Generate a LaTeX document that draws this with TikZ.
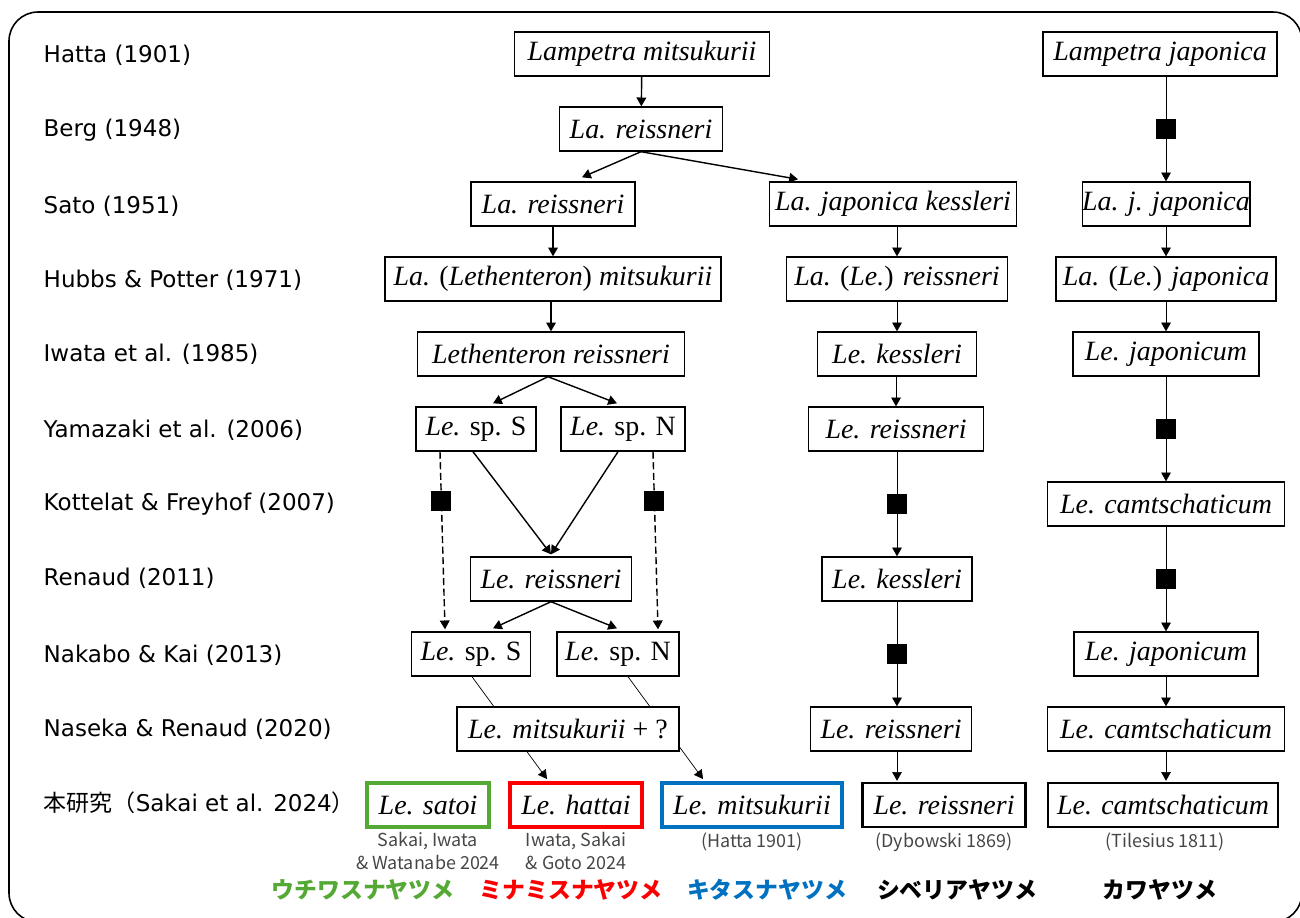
\documentclass[tikz,border=0pt]{standalone}
\usepackage{fontspec}
\setmainfont{Liberation Serif}
\newfontfamily\labfont{DejaVu Sans}
\newfontfamily\jpfont{Noto Sans CJK JP}
\usetikzlibrary{arrows.meta,calc}
\definecolor{satoigreen}{RGB}{84,168,52}
\definecolor{hattaired}{RGB}{250,0,0}
\definecolor{mitsublue}{RGB}{0,112,192}
\definecolor{authgray}{RGB}{70,70,70}
\pgfdeclarelayer{bg}
\pgfsetlayers{bg,main}
\tikzset{
  taxnode/.style = {draw=black, fill=white, line width=0.8pt, inner sep=0pt,
    minimum height=0.88cm, font=\fontsize{15.9}{18}\selectfont},
  tax_n/.style = {taxnode},% box, earlier works
  tax_k/.style = {taxnode, line width=1.4pt},% box, this study
  tax_g/.style = {taxnode, draw=satoigreen, line width=2.3pt},% box, satoi
  tax_r/.style = {taxnode, draw=hattaired, line width=2.3pt},% box, hattai
  tax_b/.style = {taxnode, draw=mitsublue, line width=2.3pt},% box, mitsukurii
  boxw/.style = {minimum width=#1*0.02cm},
  blk/.style = {fill=black, minimum size=0.4cm, inner sep=0pt},% black square
  yearlab/.style = {anchor=west, inner sep=0pt,
    font=\labfont\fontsize{13.1}{15}\selectfont},
  authlab/.style = {anchor=north, align=center, inner sep=0pt, text=authgray,
    font=\jpfont\fontsize{10.2}{12.8}\selectfont},
  kanalab/.style = {inner sep=0pt, font=\jpfont\bfseries\fontsize{13}{15}\selectfont}
}
\begin{document}
\begin{tikzpicture}[x=0.02cm, y=-0.02cm, line width=0.8pt,
  >={Triangle[length=5pt,width=5.5pt]}]
\useasboundingbox (0,0) rectangle (1300,917);
\draw[line width=0.9pt, rounded corners=0.58cm] (9,12) rectangle (1302,922);

% works, left column
\foreach \yy/\txt/\nm in {55/Hatta (1901)/hatta, 130/Berg (1948)/berg,
    206/Sato (1951)/sato, 280/Hubbs \& Potter (1971)/hubbs,
    354/Iwata et al. (1985)/iwata, 430/Yamazaki et al. (2006)/yama,
    504/Kottelat \& Freyhof (2007)/kott, 578/Renaud (2011)/renaud,
    655/Nakabo \& Kai (2013)/nakabo, 729/Naseka \& Renaud (2020)/naseka}
  \node[yearlab] (lab\nm) at (43,\yy) {\txt};
\node[yearlab] (labthis) at (43,803) {{\jpfont 本研究（}Sakai et al. 2024{\jpfont ）}};

% taxa
\node[tax_n, boxw=255] (lmit) at (642,54) {\textit{Lampetra mitsukurii}};
\node[tax_n, boxw=234] (ljap) at (1160,54) {\textit{Lampetra japonica}};
\node[tax_n, boxw=163] (berg) at (641,129) {\textit{La. reissneri}};
\node[tax_n, boxw=164] (rs51) at (553,204) {\textit{La. reissneri}};
\node[tax_n, boxw=247] (lj51) at (893,204) {\textit{La. japonica kessleri}};
\node[tax_n, boxw=165] (ljj51) at (1166,204) {\textit{La. j. japonica}};
\node[tax_n, boxw=336] (hp71a) at (553,279) {\textit{La.} (\textit{Lethenteron}) \textit{mitsukurii}};
\node[tax_n, boxw=221] (hp71b) at (897,279) {\textit{La.} (\textit{Le.}) \textit{reissneri}};
\node[tax_n, boxw=220] (hp71c) at (1166,279) {\textit{La.} (\textit{Le.}) \textit{japonica}};
\node[tax_n, boxw=267] (iw85a) at (551,354) {\textit{Lethenteron reissneri}};
\node[tax_n, boxw=159] (iw85b) at (897,354) {\textit{Le. kessleri}};
\node[tax_n, boxw=186] (iw85c) at (1166,354) {\textit{Le. japonicum}};
\node[tax_n, boxw=120] (ya06s) at (476,429) {\textit{Le.} sp. S};
\node[tax_n, boxw=124] (ya06n) at (623,429) {\textit{Le.} sp. N};
\node[tax_n, boxw=175] (ya06r) at (896,429) {\textit{Le. reissneri}};
\node[tax_n, boxw=237] (ko07c) at (1166,504) {\textit{Le. camtschaticum}};
\node[tax_n, boxw=161] (re11) at (551,579) {\textit{Le. reissneri}};
\node[tax_n, boxw=150] (re11k) at (897,579) {\textit{Le. kessleri}};
\node[tax_n, boxw=119] (nk13s) at (471,654) {\textit{Le.} sp. S};
\node[tax_n, boxw=122] (nk13n) at (618,654) {\textit{Le.} sp. N};
\node[tax_n, boxw=184] (nk13j) at (1166,654) {\textit{Le. japonicum}};
\node[tax_n, boxw=222] (ns20m) at (568,729) {\textit{Le. mitsukurii} + ?};
\node[tax_n, boxw=161] (ns20r) at (891,729) {\textit{Le. reissneri}};
\node[tax_n, boxw=237] (ns20c) at (1166,729) {\textit{Le. camtschaticum}};
\node[tax_g, boxw=122] (sat) at (428,805) {\textit{Le. satoi}};
\node[tax_r, boxw=132] (hat) at (576,805) {\textit{Le. hattai}};
\node[tax_b, boxw=180] (mit) at (752,805) {\textit{Le. mitsukurii}};
\node[tax_k, boxw=163] (reis) at (944,805) {\textit{Le. reissneri}};
\node[tax_k, boxw=230] (cam) at (1163,805) {\textit{Le. camtschaticum}};

% authors and japanese names
\node[authlab] (au_sat) at (428,832) {Sakai, Iwata\\\& Watanabe 2024};
\node[authlab] (au_hat) at (576,832) {Iwata, Sakai\\\& Goto 2024};
\node[authlab] (au_mit) at (752,832) {(Hatta 1901)};
\node[authlab] (au_reis) at (944,832) {(Dybowski 1869)};
\node[authlab] (au_cam) at (1165,832) {(Tilesius 1811)};
\node[kanalab, text=satoigreen] (kn_sat) at (363,890) {ウチワスナヤツメ};
\node[kanalab, text=hattaired] (kn_hat) at (571,890) {ミナミスナヤツメ};
\node[kanalab, text=mitsublue] (kn_mit) at (767,890) {キタスナヤツメ};
\node[kanalab] (kn_reis) at (957,890) {シベリアヤツメ};
\node[kanalab] (kn_cam) at (1160,890) {カワヤツメ};

% left column
\draw[->] (lmit) -- (berg);
\draw[->] (berg.south) -- ($(rs51.north)+(29,-4)$);
\draw[->] (berg.south) -- ($(lj51.north)+(-95,-2)$);
\draw[->] (rs51.south -| hp71a) -- (hp71a.north);
\draw[->] (hp71a.south -| iw85a) -- (iw85a.north);
\draw[->] ($(iw85a.south)+(-3,0)$) -- ($(ya06s.north)+(17,-3)$);
\draw[->] ($(iw85a.south)+(-3,0)$) -- ($(ya06n.north)+(-6,-3)$);
\draw[->] ($(ya06s.south)+(-3,0)$) -- ($(re11.north)+(0,-2)$);
\draw[->] ($(ya06n.south)+(-5,0)$) -- ($(re11.north)+(0,-2)$);
\draw[->, dash pattern=on 4pt off 2pt] ($(ya06s.south)+(-36,0)$)
  -- node[blk, pos=0.28]{} ($(nk13s.north)+(-26,-2)$);
\draw[->, dash pattern=on 4pt off 2pt] ($(ya06n.south)+(30,0)$)
  -- node[blk, pos=0.28]{} ($(nk13n.north)+(40,-2)$);
\draw[->] (re11.south) -- ($(nk13s.north)+(22,-3)$);
\draw[->] (re11.south) -- ($(nk13n.north)+(-1,-3)$);
\begin{pgfonlayer}{bg}
\draw[->] ($(nk13s.south)+(1,0)$) -- ($(hat.north)+(-29,-2)$);% behind ns20m
\draw[->] ($(nk13n.south)+(10,0)$) -- ($(mit.north)+(-49,-2)$);
\end{pgfonlayer}

% middle column
\draw[->] (lj51.south -| hp71b) -- (hp71b.north);
\draw[->] (hp71b) -- (iw85b);
\draw[->] (iw85b.south -| ya06r) -- (ya06r.north);
\draw[->] (ya06r.south -| re11k) -- node[blk]{} (re11k.north);
\draw[->] (re11k.south) -- node[blk]{} (re11k |- ns20r.north);
\draw[->] (ns20r.south -| re11k) -- ($(re11k |- reis.north)+(0,-1)$);

% right column
\draw[->] (ljap.south -| ljj51) -- node[blk]{} (ljj51.north);
\draw[->] (ljj51) -- (hp71c);
\draw[->] (hp71c) -- (iw85c);
\draw[->] (iw85c) -- node[blk]{} (ko07c);
\draw[->] (ko07c) -- node[blk]{} (nk13j);
\draw[->] (nk13j) -- (ns20c);
\draw[->] (ns20c.south) -- ($(ns20c.south |- cam.north)+(0,-1)$);
\end{tikzpicture}
\end{document}
